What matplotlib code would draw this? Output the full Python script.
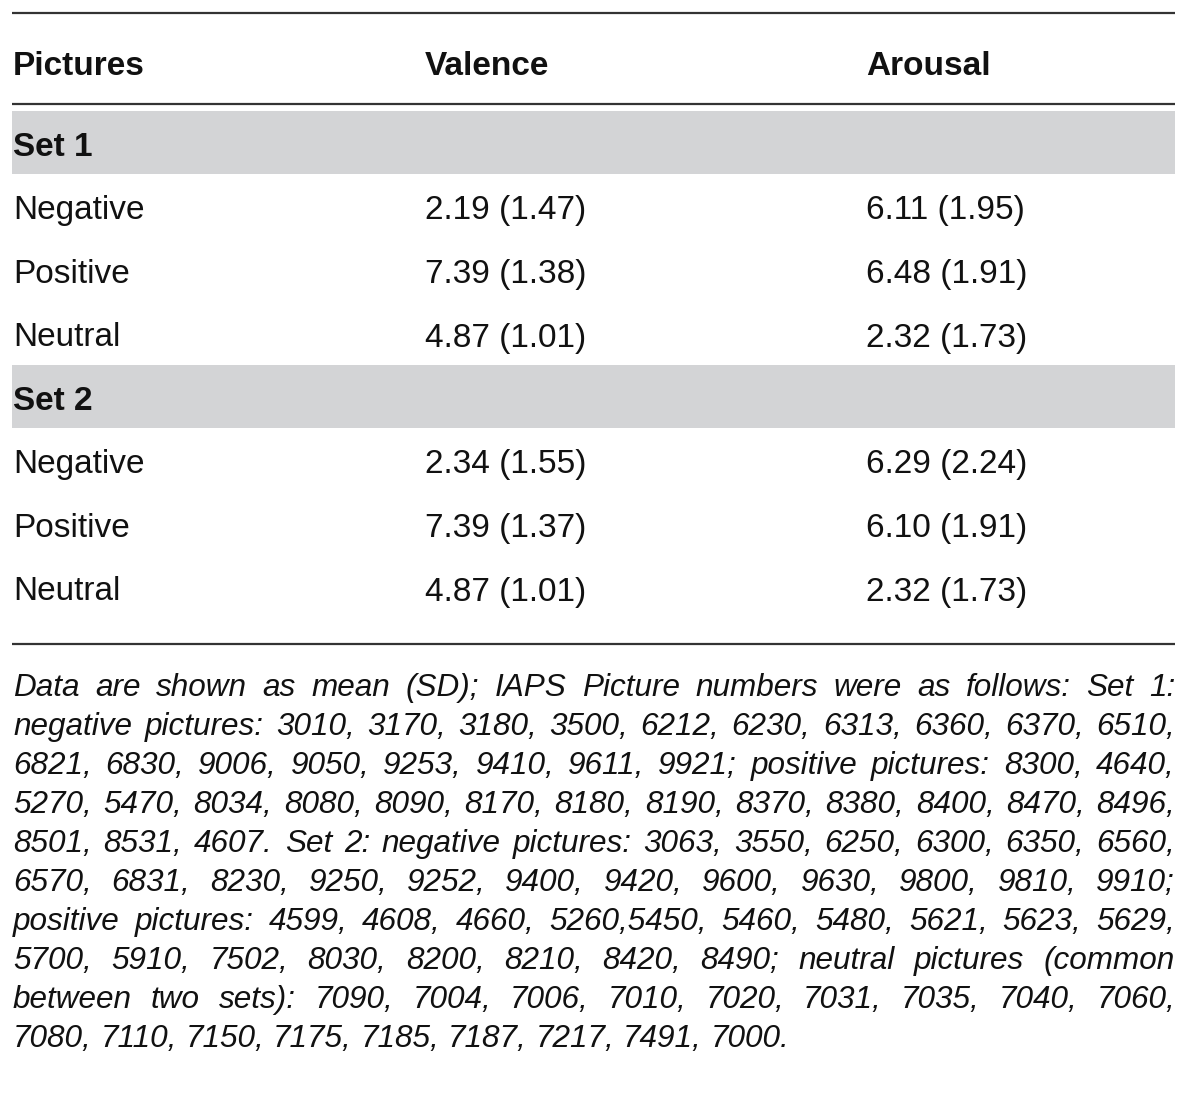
import matplotlib
matplotlib.use("Agg")
import matplotlib.pyplot as plt

plt.rcParams['font.family'] = ['Liberation Sans', 'DejaVu Sans']

# ---- data ----
columns = ["Pictures", "Valence", "Arousal"]
sets = ["Set 1", "Set 2"]
categories = ["Negative", "Positive", "Neutral"]
valence_mean = [[2.19, 7.39, 4.87], [2.34, 7.39, 4.87]]
valence_sd = [[1.47, 1.38, 1.01], [1.55, 1.37, 1.01]]
arousal_mean = [[6.11, 6.48, 2.32], [6.29, 6.10, 2.32]]
arousal_sd = [[1.95, 1.91, 1.73], [2.24, 1.91, 1.73]]

footnote_lines = [
    "Data are shown as mean (SD); IAPS Picture numbers were as follows: Set 1:",
    "negative pictures: 3010, 3170, 3180, 3500, 6212, 6230, 6313, 6360, 6370, 6510,",
    "6821, 6830, 9006, 9050, 9253, 9410, 9611, 9921; positive pictures: 8300, 4640,",
    "5270, 5470, 8034, 8080, 8090, 8170, 8180, 8190, 8370, 8380, 8400, 8470, 8496,",
    "8501, 8531, 4607. Set 2: negative pictures: 3063, 3550, 6250, 6300, 6350, 6560,",
    "6570, 6831, 8230, 9250, 9252, 9400, 9420, 9600, 9630, 9800, 9810, 9910;",
    "positive pictures: 4599, 4608, 4660, 5260,5450, 5460, 5480, 5621, 5623, 5629,",
    "5700, 5910, 7502, 8030, 8200, 8210, 8420, 8490; neutral pictures (common",
    "between two sets): 7090, 7004, 7006, 7010, 7020, 7031, 7035, 7040, 7060,",
    "7080, 7110, 7150, 7175, 7185, 7187, 7217, 7491, 7000.",
]

# ---- layout ----
W, H = 1200, 1094
fig = plt.figure(figsize=(W / 100, H / 100), dpi=100)
ax = fig.add_axes([0, 0, 1, 1])
ax.set_xlim(0, W)
ax.set_ylim(H, 0)
ax.axis('off')

x_left, x_right = 12, 1175
col_x = [13, 425, 866]
fs = 24
fs_note = 22.7
band_color = '#d3d4d6'
line_color = '#333333'
text_color = '#111111'

# rules
for y in (12.5, 103.5, 644):
    ax.plot([x_left, x_right], [y, y], color=line_color, lw=1.6, solid_capstyle='butt')

# header
for x, c in zip(col_x, columns):
    ax.text(x, 75, c, fontsize=fs, fontweight='bold', va='baseline', ha='left',
            color=text_color)

set_band_top = [111, 365]
row_h = 63.5
for s, name in enumerate(sets):
    top = set_band_top[s]
    ax.add_patch(plt.Rectangle((x_left, top), x_right - x_left, 63,
                               facecolor=band_color, edgecolor='none'))
    ax.text(13, top + 45, name, fontsize=fs, fontweight='bold', va='baseline',
            color=text_color)
    for i, cat in enumerate(categories):
        yb = top + 108.5 + i * row_h
        ax.text(col_x[0], yb, cat, fontsize=fs, va='baseline', color=text_color)
        ax.text(col_x[1], yb, f"{valence_mean[s][i]:.2f} ({valence_sd[s][i]:.2f})",
                fontsize=fs, va='baseline', color=text_color)
        ax.text(col_x[2], yb, f"{arousal_mean[s][i]:.2f} ({arousal_sd[s][i]:.2f})",
                fontsize=fs, va='baseline', color=text_color)

# footnote (justified)
renderer = fig.canvas.get_renderer()
note_x0, note_x1 = 13, 1175
a = ax.text(0, 0, "a a", fontsize=fs_note, style='italic')
b = ax.text(0, 0, "aa", fontsize=fs_note, style='italic')
space_w = a.get_window_extent(renderer).width - b.get_window_extent(renderer).width
a.remove(); b.remove()
for li, line in enumerate(footnote_lines):
    yb = 696 + li * 39
    words = line.split(' ')
    texts = [ax.text(0, yb, w, fontsize=fs_note, style='italic', va='baseline',
                     color=text_color) for w in words]
    widths = [t.get_window_extent(renderer).width for t in texts]
    last = li == len(footnote_lines) - 1
    if last or len(words) == 1:
        gap = space_w
    else:
        gap = (note_x1 - note_x0 - sum(widths)) / (len(words) - 1)
    x = note_x0
    for t, w in zip(texts, widths):
        t.set_x(x)
        x += w + gap

fig.savefig("out.png", dpi=100)
